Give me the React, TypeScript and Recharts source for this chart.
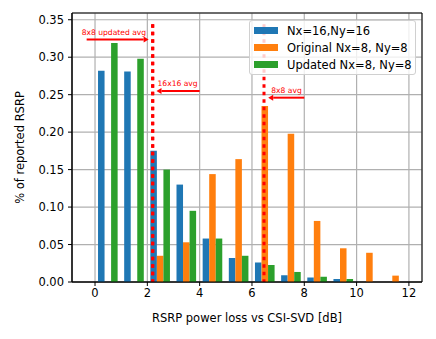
import {
  Bar,
  BarChart,
  CartesianGrid,
  Legend,
  ReferenceArea,
  ReferenceLine,
  XAxis,
  YAxis,
} from "recharts"

document.body.style.margin = "0"

// histogram bins: [start, start + 1) dB
const binStarts = [0, 1, 2, 3, 4, 5, 6, 7, 8, 9, 10, 11]
const nx16 = [0.282, 0.281, 0.175, 0.13, 0.058, 0.032, 0.026, 0.009, 0.006, 0.004, 0, 0]
const original8 = [0, 0, 0.035, 0.053, 0.144, 0.164, 0.235, 0.198, 0.0815, 0.045, 0.039, 0.0085]
const updated8 = [0.319, 0.298, 0.15, 0.095, 0.058, 0.035, 0.0227, 0.0134, 0.007, 0.004, 0, 0]

const seriesKeys = ["nx16", "original8", "updated8"]
const seriesNames = ["Nx=16,Ny=16", "Original Nx=8, Ny=8", "Updated Nx=8, Ny=8"]
const seriesColors = ["#1f77b4", "#ff7f0e", "#2ca02c"]

const xTicks = [0, 2, 4, 6, 8, 10, 12]
const yTicks = [0, 0.05, 0.1, 0.15, 0.2, 0.25, 0.3, 0.35]

// averages (dotted lines) and their arrow annotations
const avgLabels = ["8x8 updated avg", "16x16 avg", "8x8 avg"]
const avgValues = [2.2, 2.21, 6.46]
const avgTop = 0.344
const arrowFrom = [-0.32, 4.0, 8.0]
const arrowTo = [2.05, 2.35, 6.62]
const arrowY = [0.3235, 0.255, 0.246]

const X_DOMAIN = [-0.88, 12.5]
const Y_DOMAIN = [0, 0.359]

const WIDTH = 436
const HEIGHT = 339
const MARGIN = { top: 13, right: 14, bottom: 0, left: 0 }
const Y_AXIS_WIDTH = 72
const X_AXIS_HEIGHT = 57
const FONT = "'DejaVu Sans', sans-serif"
const FONT_SIZE = 11.5

const plotWidth = WIDTH - MARGIN.left - MARGIN.right - Y_AXIS_WIDTH
const unit = plotWidth / (X_DOMAIN[1] - X_DOMAIN[0])

const data = binStarts.map((start, i) => ({
  x: start + 0.5,
  nx16: nx16[i],
  original8: original8[i],
  updated8: updated8[i],
}))

function Arrow(props: any) {
  const { x1, y1, x2, y2, text, dx } = props
  const dir = x2 > x1 ? 1 : -1
  const head = 5
  const left = Math.min(x1, x2)
  return (
    <g>
      <line x1={x1} y1={y1} x2={x2 - dir * head} y2={y2} stroke="#ff0000" strokeWidth={2} />
      <polygon
        points={`${x2},${y2} ${x2 - dir * head},${y2 - 3} ${x2 - dir * head},${y2 + 3}`}
        fill="#ff0000"
      />
      <text x={left + dx} y={y1 - 5} fill="#ff0000" fontSize={7.6} fontFamily={FONT}>
        {text}
      </text>
    </g>
  )
}

const textOffsets = [-5, 1, 3]

function LegendBox() {
  return (
    <div
      style={{
        border: "1px solid #d0d0d0",
        borderRadius: 3,
        background: "rgba(255,255,255,0.8)",
        padding: "1px 0",
        fontFamily: FONT,
        fontSize: FONT_SIZE,
        color: "#000",
      }}
    >
      {seriesNames.map((name, i) => (
        <div key={name} style={{ display: "flex", alignItems: "center", height: 17 }}>
          <span
            style={{
              display: "inline-block",
              width: 24,
              height: 7,
              marginLeft: 4,
              marginRight: 9,
              background: seriesColors[i],
            }}
          />
          <span>{name}</span>
        </div>
      ))}
    </div>
  )
}

export default function App() {
  return (
    <BarChart
      width={WIDTH}
      height={HEIGHT}
      data={data}
      margin={MARGIN}
      barGap={0}
      style={{ fontFamily: FONT }}
    >
      <CartesianGrid stroke="#b0b0b0" strokeWidth={1.2} />
      <XAxis
        dataKey="x"
        type="number"
        domain={X_DOMAIN}
        allowDataOverflow
        ticks={xTicks}
        height={X_AXIS_HEIGHT}
        tickSize={4}
        tickMargin={3}
        stroke="#000"
        tick={{ fill: "#000", fontSize: FONT_SIZE, fontFamily: FONT }}
        label={{
          content: ({ viewBox }: any) => (
            <text
              x={viewBox.x + viewBox.width / 2}
              y={viewBox.y + 36}
              textAnchor="middle"
              dominantBaseline="central"
              fontSize={FONT_SIZE}
              fontFamily={FONT}
              fill="#000"
            >
              RSRP power loss vs CSI-SVD [dB]
            </text>
          ),
        }}
      />
      <YAxis
        width={Y_AXIS_WIDTH}
        domain={Y_DOMAIN}
        ticks={yTicks}
        allowDataOverflow
        tickSize={4}
        tickMargin={4}
        stroke="#000"
        tickFormatter={(v: number) => v.toFixed(2)}
        tick={{ fill: "#000", fontSize: FONT_SIZE, fontFamily: FONT }}
        label={{
          content: ({ viewBox }: any) => (
            <text
              x={viewBox.x + 20}
              y={viewBox.y + viewBox.height / 2}
              transform={`rotate(-90, ${viewBox.x + 20}, ${viewBox.y + viewBox.height / 2})`}
              textAnchor="middle"
              dominantBaseline="central"
              fontSize={FONT_SIZE}
              fontFamily={FONT}
              fill="#000"
            >
              % of reported RSRP
            </text>
          ),
        }}
      />
      {seriesKeys.map((key, i) => (
        <Bar
          key={key}
          dataKey={key}
          name={seriesNames[i]}
          fill={seriesColors[i]}
          barSize={unit / 4}
          isAnimationActive={false}
        />
      ))}
      {avgValues.map((x, i) => (
        <ReferenceLine
          key={"avg" + i}
          segment={[
            { x, y: avgTop },
            { x, y: 0 },
          ]}
          stroke="#ff0000"
          strokeWidth={3}
          strokeDasharray="3.5 4"
        />
      ))}
      {avgLabels.map((text, i) => (
        <ReferenceLine
          key={"arrow" + i}
          segment={[
            { x: arrowFrom[i], y: arrowY[i] },
            { x: arrowTo[i], y: arrowY[i] },
          ]}
          shape={(p: any) => <Arrow {...p} text={text} dx={textOffsets[i]} />}
        />
      ))}
      <ReferenceArea
        x1={X_DOMAIN[0]}
        x2={X_DOMAIN[1]}
        y1={Y_DOMAIN[0]}
        y2={Y_DOMAIN[1]}
        fill="none"
        stroke="#000"
        strokeWidth={1}
        fillOpacity={0}
      />
      <Legend
        layout="horizontal"
        verticalAlign="middle"
        align="center"
        wrapperStyle={{ left: 249, top: 20, width: 167 }}
        content={() => <LegendBox />}
      />
    </BarChart>
  )
}
